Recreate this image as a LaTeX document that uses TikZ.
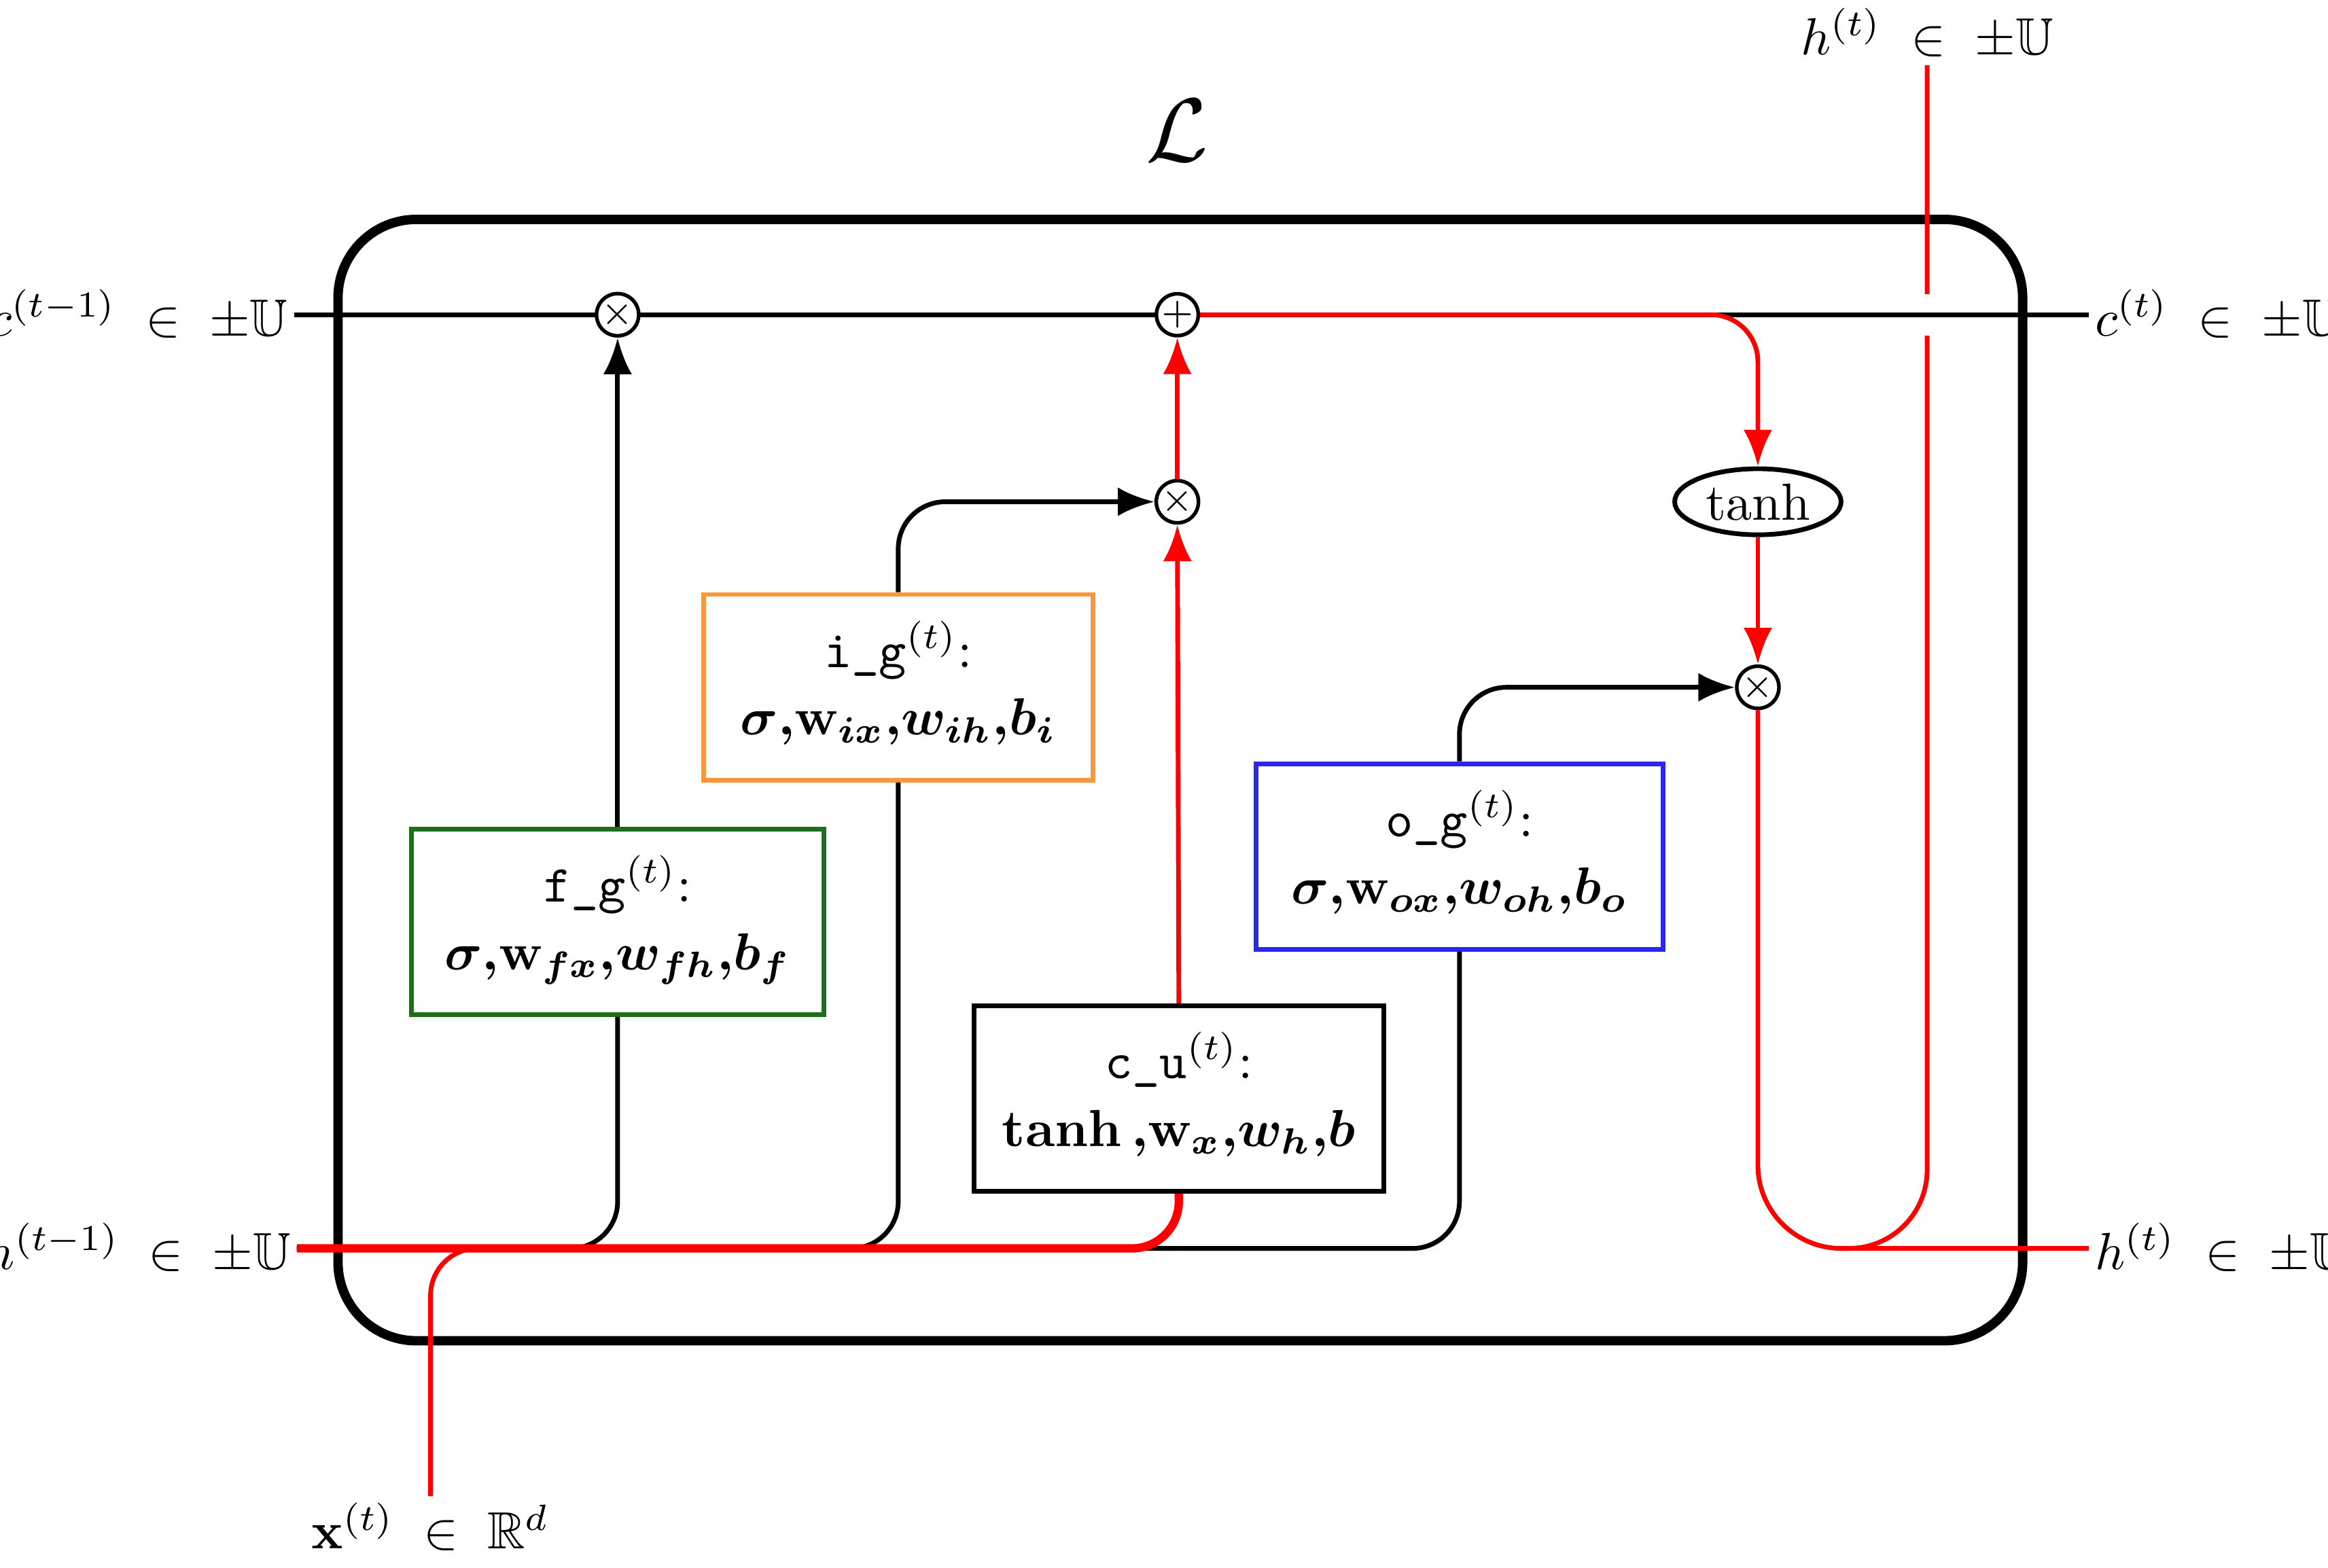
\documentclass[tikz,border=0pt]{standalone}
\usepackage{amsmath,amssymb}
\usetikzlibrary{arrows.meta,shapes.geometric}
\definecolor{gcol}{RGB}{30,110,30}
\definecolor{ocol}{RGB}{250,150,60}
\definecolor{bcol}{RGB}{40,40,240}
\newcommand{\gatetext}[2]{\begin{tabular}{@{}c@{}}\texttt{#1}$^{(t)}$:\\[1pt] \boldmath$#2$\end{tabular}}
\begin{document}
\begin{tikzpicture}[x=0.01cm,y=-0.01cm,font=\normalsize,
 ln/.style={line width=0.9pt,rounded corners=9pt},
 arr/.style={ln,-{Latex[length=7pt,width=5.5pt]}},
 rl/.style={ln,red},
 rarr/.style={arr,red},
 op/.style={circle,draw,line width=0.7pt,minimum size=0.28cm,inner sep=0pt,fill=white,font=\scriptsize},
 gate/.style={draw,line width=0.9pt,minimum width=2.78cm,minimum height=1.25cm,fill=white},
 lab/.style={inner sep=1pt}]
\useasboundingbox (0,0) rectangle (1568,1056);
\node[font=\LARGE] (L) at (793,88) {$\mathcal{L}$};
\node[draw,line width=1.8pt,rounded corners=15pt,minimum width=11.34cm,minimum height=7.55cm] (cell) at (795,525.5) {};
\node[lab,anchor=east] (cin) at (198,212) {$c^{(t-1)}\;\in\;\pm\mathbb{U}$};
\node[lab,anchor=west] (cout) at (1407,212) {$c^{(t)}\;\in\;\pm\mathbb{U}$};
\node[lab,anchor=east] (hin) at (200,841) {$h^{(t-1)}\;\in\;\pm\mathbb{U}$};
\node[lab,anchor=west] (hout) at (1407,841) {$h^{(t)}\;\in\;\pm\mathbb{U}$};
\node[lab,anchor=south] (htop) at (1298,44) {$h^{(t)}\;\in\;\pm\mathbb{U}$};
\node[lab,anchor=north] (xin) at (290,1008) {$\mathbf{x}^{(t)}\;\in\;\mathbb{R}^{d}$};
\node[gate,draw=gcol] (fg) at (416,621) {\gatetext{f\textunderscore g}{\sigma{,}\mathbf{w}_{fx}{,}w_{fh}{,}b_f}};
\node[gate,draw=ocol,minimum width=2.62cm] (ig) at (605,463) {\gatetext{i\textunderscore g}{\sigma{,}\mathbf{w}_{ix}{,}w_{ih}{,}b_i}};
\node[gate,draw=bcol,minimum width=2.74cm] (og) at (983,577) {\gatetext{o\textunderscore g}{\sigma{,}\mathbf{w}_{ox}{,}w_{oh}{,}b_o}};
\node[gate,minimum width=2.76cm] (cu) at (794,740) {\gatetext{c\textunderscore u}{\tanh{,}\mathbf{w}_{x}{,}w_{h}{,}b}};
\coordinate (hx) at (420,841);
\coordinate (hm) at (1240,841);
\coordinate (gapa) at (1298,198);
\coordinate (gapb) at (1298,226);
\draw[red,line width=0.9pt,rounded corners=15pt] (hm) -| (htop.south);
\draw[white,line width=4pt] (gapa) -- (gapb);
\draw[line width=0.9pt] (cin.east) -- (cout.west);
\node[op] (m1) at (416,212) {$\times$};
\node[op] (pl) at (793,212) {$+$};
\node[op] (m2) at (793,338) {$\times$};
\node[op] (m3) at (1184,463) {$\times$};
\node[ellipse,draw,line width=0.9pt,inner sep=1pt,minimum width=1.12cm,fill=white] (th) at (1184,338) {$\tanh$};
\draw[ln] (hin.east) -| (fg.south);
\draw[ln] (hin.east) -| (ig.south);
\draw[ln] (hin.east) -| (og.south);
\draw[arr] (fg.north) -- (m1.south);
\draw[arr] (ig.north) |- (m2.west);
\draw[arr] (og.north) |- (m3.west);
\draw[red,line width=1.6pt,rounded corners=9pt] (hin.east) -| (cu.south);
\draw[rl] (xin.north) |- (hx);
\draw[rarr] (cu.north) -- (m2.south);
\draw[rarr] (m2.north) -- (pl.south);
\draw[rarr] (pl.east) -| (th.north);
\draw[rarr] (th.south) -- (m3.north);
\draw[red,line width=0.9pt,rounded corners=16pt] (m3.south) |- (hout.west);
\end{tikzpicture}
\end{document}
